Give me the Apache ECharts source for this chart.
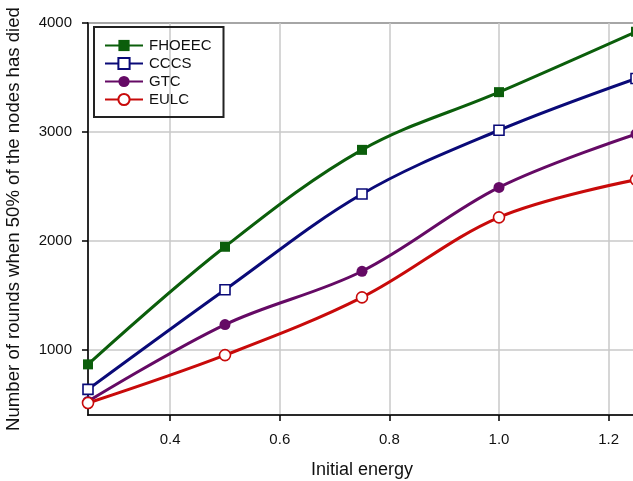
<!DOCTYPE html>
<html><head><meta charset="utf-8">
<script src="https://cdn.jsdelivr.net/npm/echarts@6/dist/echarts.min.js"></script>
<style>html,body{margin:0;padding:0;background:#fff}#c{width:633px;height:481px}</style>
</head><body><div id="c"></div>
<script>
const energy = [0.25, 0.5, 0.75, 1.0, 1.25];
const fhoeec = [865, 1945, 2835, 3365, 3920];
const cccs = [635, 1550, 2430, 3015, 3490];
const gtc = [525, 1230, 1720, 2490, 2980];
const eulc = [510, 950, 1480, 2215, 2560];
const seriesNames = ['FHOEEC', 'CCCS', 'GTC', 'EULC'];

const pair = v => energy.map((x, i) => [x, v[i]]);
const chart = echarts.init(document.getElementById('c'), null, {renderer: 'canvas'});
const mk = (name, data, color, symbol, open) => ({
  name, type: 'line', data: pair(data), smooth: 0.35,
  symbol, symbolSize: symbol === 'rect' ? 10 : 11,
  lineStyle: {color, width: 3},
  itemStyle: {color: open ? '#fff' : color, borderColor: color, borderWidth: open ? 1.6 : 0},
  emphasis: {disabled: true}
});
chart.setOption({
  animation: false,
  textStyle: {fontFamily: 'Liberation Sans, Arial, sans-serif'},
  grid: {left: 88, top: 23, right: -3, bottom: 66, containLabel: false, outerBoundsMode: 'none',
    show: true, borderColor: '#000', borderWidth: 1.5, backgroundColor: 'transparent'},
  legend: {
    orient: 'vertical', left: 94, top: 27,
    padding: [11, 12, 10, 10],
    itemWidth: 38, itemHeight: 14, itemGap: 3,
    borderColor: '#222', borderWidth: 2,
    textStyle: {fontSize: 15, lineHeight: 15, color: '#111', fontFamily: 'Liberation Sans, Arial, sans-serif', padding: [0, 0, 0, 1]},
    data: seriesNames
  },
  xAxis: {
    type: 'value', min: 0.25, max: 1.25, splitNumber: 5,
    name: 'Initial energy', nameLocation: 'middle', nameGap: 46,
    nameTextStyle: {fontSize: 18, color: '#111'},
    axisLine: {lineStyle: {color: '#000', width: 1.5}},
    axisTick: {show: true, length: 6, lineStyle: {color: '#000', width: 1.5}},
    axisLabel: {fontSize: 15, color: '#111', margin: 17, showMinLabel: false, showMaxLabel: false,
      formatter: v => (Math.abs(v - 0.25) < 1e-6 || Math.abs(v - 1.25) < 1e-6) ? '' : v.toFixed(1)},
    splitLine: {show: true, lineStyle: {color: '#c8c8c8', width: 1.5}}
  },
  yAxis: {
    type: 'value', min: 400, max: 4000, splitNumber: 4,
    name: 'Number of rounds when 50% of the nodes has died', nameLocation: 'middle', nameGap: 65,
    nameTextStyle: {fontSize: 18.6, color: '#111'},
    axisLine: {show: true, lineStyle: {color: '#000', width: 1.5}},
    axisTick: {show: true, length: 6, lineStyle: {color: '#000', width: 1.5}},
    axisLabel: {fontSize: 15, color: '#111', margin: 16, showMinLabel: false,
      formatter: v => v === 400 ? '' : String(v)},
    splitLine: {show: true, lineStyle: {color: '#c8c8c8', width: 1.5}}
  },
  series: [
    mk('FHOEEC', fhoeec, '#0b5e0b', 'rect', false),
    mk('CCCS', cccs, '#0a0a78', 'rect', true),
    mk('GTC', gtc, '#650a65', 'circle', false),
    mk('EULC', eulc, '#c80a0a', 'circle', true)
  ]
});
</script></body></html>
